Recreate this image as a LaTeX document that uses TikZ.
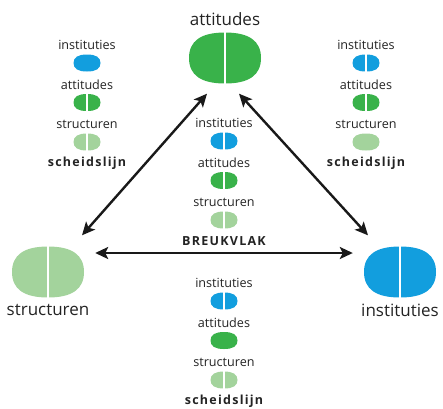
\documentclass[tikz,border=0pt]{standalone}
\usepackage{fontspec}
\setmainfont{Open Sans}
\usetikzlibrary{arrows.meta}

\definecolor{groen}{RGB}{57,178,74}
\definecolor{blauw}{RGB}{18,158,222}
\definecolor{lichtgroen}{RGB}{163,211,156}
\definecolor{tekst}{RGB}{35,35,35}

\begin{document}
\begin{tikzpicture}[x=1pt,y=-1pt]
  \useasboundingbox (0,0) rectangle (443,408);

  %--------------------------------------------
  % Tamanho dos ovais
  %--------------------------------------------
  \def\dy{39.5}    % passo vertical de cada coluna
  \def\kk{0.67}    % quanto o oval se aproxima de um retangulo
  % contorno de raio 1 (entre elipse e retangulo)
  \def\supel{(1,0) .. controls (1,\kk) and (\kk,1) .. (0,1)
    .. controls (-\kk,1) and (-1,\kk) .. (-1,0)
    .. controls (-1,-\kk) and (-\kk,-1) .. (0,-1)
    .. controls (\kk,-1) and (1,-\kk) .. (1,0) -- cycle}

  %--------------------------------------------
  % Estilos
  %--------------------------------------------
  \tikzstyle{ovaal} = [inner sep=0pt, minimum width=27pt, minimum height=17pt]
  \tikzstyle{groot} = [inner sep=0pt, minimum width=72pt, minimum height=51pt]
  \tikzstyle{klein vorm} = [xscale=13.5, yscale=8.5]
  \tikzstyle{groot vorm} = [xscale=36, yscale=25.5]
  \tikzstyle{snede} = [draw=white, line width=1.3pt]
  \tikzstyle{label} = [text=tekst, inner sep=0pt, font=\fontsize{12.6}{14}\selectfont]
  \tikzstyle{titel} = [text=tekst, inner sep=0pt, font=\fontsize{17}{20}\selectfont]
  \tikzstyle{voet}  = [text=tekst, inner sep=0pt,
    font=\fontsize{12.5}{14}\selectfont\bfseries\addfontfeatures{LetterSpace=10}]
  \tikzstyle{pijl}  = [line width=2.4pt, draw=black!90,
    {Stealth[length=13pt,width=12pt,inset=3pt]}-{Stealth[length=13pt,width=12pt,inset=3pt]}]

  %--------------------------------------------
  % Ovais grandes com nome (sempre partidos)
  %--------------------------------------------
  \foreach \n/\cor/\px/\py in {att/groen/225/58,
    str/lichtgroen/48/272, ins/blauw/400/272}
  {
    \node[groot] (\n) at (\px,\py) {};
    \fill[\cor, shift={(\n.center)}, groot vorm] \supel;
    \draw[snede, line width=2.6pt] (\n.north) -- (\n.south);
  }
  \node[titel] (att-t) at (225,19) {attitudes};
  \node[titel] (str-t) at (48,310) {structuren};
  \node[titel] (ins-t) at (400,310) {instituties};

  %--------------------------------------------
  % Colunas com os tres ovais pequenos
  %--------------------------------------------
  % \pa, \pb, \pc: 1 = oval partido, 0 = oval inteiro
  \foreach \k/\cx/\cy/\voet/\pa/\pb/\pc in {l/87/45/scheidslijn/0/1/1,
    r/366/45/scheidslijn/1/1/0, m/224/123/BREUKVLAK/1/1/1,
    o/224/283/scheidslijn/1/0/1}
  {
    \foreach [count=\i] \lbl/\cor/\sp in {instituties/blauw/\pa,
      attitudes/groen/\pb, structuren/lichtgroen/\pc}
    {
      \node[label] (\k-t\i) at (\cx,{\cy+\dy*(\i-1)}) {\lbl};
      \node[ovaal] (\k-o\i) at (\cx,{\cy+18+\dy*(\i-1)}) {};
      \fill[\cor, shift={(\k-o\i.center)}, klein vorm] \supel;
      \ifnum\sp=1 \draw[snede] (\k-o\i.north) -- (\k-o\i.south); \fi
    }
    \node[voet] (\k-v) at (\cx,\cy+118) {\voet};
  }

  %--------------------------------------------
  % Setas duplas entre os ovais grandes
  %--------------------------------------------
  \draw[pijl] ([shift={(-18,10)}]att.south) -- ([shift={(34,-11)}]str.north);
  \draw[pijl] ([shift={(14,10)}]att.south) -- ([shift={(-32,-11)}]ins.north);
  \draw[pijl] ([shift={(11,-19)}]str.east) -- ([shift={(-11,-19)}]ins.west);
\end{tikzpicture}
\end{document}
